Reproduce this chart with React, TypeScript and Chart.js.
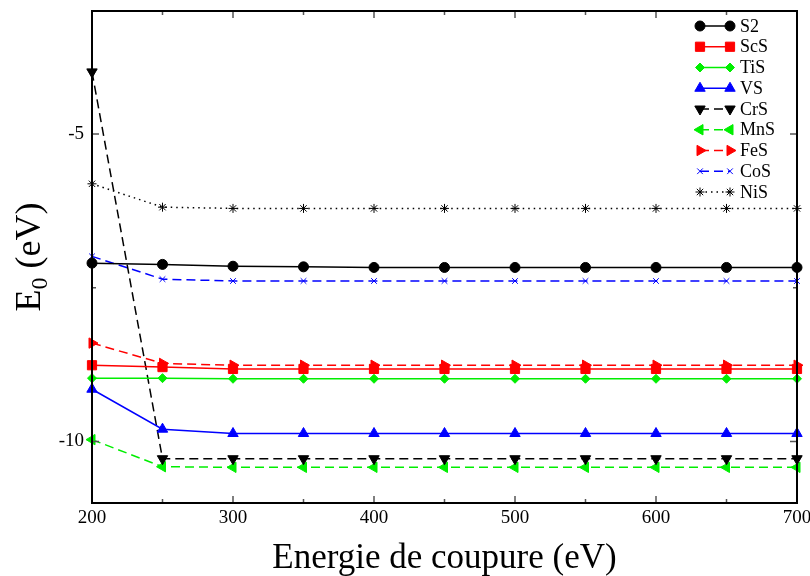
import React, { useEffect, useRef } from "react";
import { Chart, registerables, PointElement } from "chart.js";

Chart.register(...registerables);

const cutoffs = [200, 250, 300, 350, 400, 450, 500, 550, 600, 650, 700];
const xTickLabels = [200, 300, 400, 500, 600, 700];
const yTickLabels = [-10, -5];

const S2 = [-7.10, -7.12, -7.15, -7.16, -7.17, -7.17, -7.17, -7.17, -7.17, -7.17, -7.17];
const ScS = [-8.76, -8.79, -8.82, -8.82, -8.82, -8.82, -8.82, -8.82, -8.82, -8.82, -8.82];
const TiS = [-8.97, -8.97, -8.98, -8.98, -8.98, -8.98, -8.98, -8.98, -8.98, -8.98, -8.98];
const VS = [-9.15, -9.80, -9.87, -9.87, -9.87, -9.87, -9.87, -9.87, -9.87, -9.87, -9.87];
const CrS = [-3.99, -10.28, -10.28, -10.28, -10.28, -10.28, -10.28, -10.28, -10.28, -10.28, -10.28];
const MnS = [-9.97, -10.41, -10.42, -10.42, -10.42, -10.42, -10.42, -10.42, -10.42, -10.42, -10.42];
const FeS = [-8.40, -8.73, -8.76, -8.76, -8.76, -8.76, -8.76, -8.76, -8.76, -8.76, -8.76];
const CoS = [-6.99, -7.36, -7.39, -7.39, -7.39, -7.39, -7.39, -7.39, -7.39, -7.39, -7.39];
const NiS = [-5.81, -6.19, -6.21, -6.21, -6.21, -6.21, -6.21, -6.21, -6.21, -6.21, -6.21];

const SERIF = "'Liberation Serif', 'Times New Roman', serif";
const GREEN = "#00ee00";

function mk(label: string, values: number[], color: string, style: string, radius: number, rotation: number, dash: number[], bw = 1.5, pbw = 1) {
  return {
    label,
    data: cutoffs.map((x, i) => ({ x, y: values[i] })),
    borderColor: color,
    backgroundColor: color,
    pointBackgroundColor: color,
    pointBorderColor: color,
    borderWidth: bw,
    borderDash: dash,
    pointStyle: style,
    pointRadius: radius,
    pointRotation: rotation,
    pointBorderWidth: pbw,
    tension: 0,
    clip: false as any,
  };
}

const framePlugin = {
  id: "frame",
  afterDraw(chart: any) {
    const { ctx, chartArea: a, scales } = chart;
    const xs = scales.x, ys = scales.y;
    ctx.save();
    // ticks
    ctx.strokeStyle = "#555";
    ctx.lineWidth = 1.5;
    for (let v = 200; v <= 700; v += 50) {
      const px = xs.getPixelForValue(v);
      const len = v % 100 === 0 ? 7 : 4;
      ctx.beginPath();
      ctx.moveTo(px, a.bottom); ctx.lineTo(px, a.bottom - len);
      ctx.moveTo(px, a.top); ctx.lineTo(px, a.top + len);
      ctx.stroke();
    }
    for (let v = -10; v <= -5; v += 2.5) {
      const py = ys.getPixelForValue(v);
      const len = v % 5 === 0 ? 7 : 4;
      ctx.beginPath();
      ctx.moveTo(a.left, py); ctx.lineTo(a.left + len, py);
      ctx.moveTo(a.right, py); ctx.lineTo(a.right - len, py);
      ctx.stroke();
    }
    // frame
    ctx.strokeStyle = "#000";
    ctx.lineWidth = 2;
    ctx.strokeRect(a.left, a.top, a.right - a.left, a.bottom - a.top);

    // legend
    const lx1 = a.right - 97, lx2 = a.right - 67, tx = a.right - 57;
    chart.data.datasets.forEach((ds: any, i: number) => {
      const y = a.top + 15 + i * 20.75;
      ctx.save();
      ctx.strokeStyle = ds.borderColor;
      ctx.lineWidth = ds.borderWidth;
      ctx.setLineDash(ds.borderDash || []);
      ctx.beginPath();
      ctx.moveTo(lx1, y); ctx.lineTo(lx2, y);
      ctx.stroke();
      ctx.restore();
      const el = chart.getDatasetMeta(i).data[0];
      if (el) {
        [lx1, lx2].forEach((px) => {
          const p: any = new (PointElement as any)({ x: px, y, options: el.options });
          p.draw(ctx);
        });
      }
      ctx.fillStyle = "#000";
      ctx.font = `18px ${SERIF}`;
      ctx.textAlign = "left";
      ctx.textBaseline = "middle";
      ctx.fillText(ds.label, tx, y + 1);
    });

    // x title
    ctx.fillStyle = "#000";
    ctx.font = `35px ${SERIF}`;
    ctx.textAlign = "center";
    ctx.textBaseline = "alphabetic";
    ctx.fillText("Energie de coupure (eV)", (a.left + a.right) / 2, 568);

    // y title with subscript
    ctx.save();
    ctx.translate(40, (a.top + a.bottom) / 2);
    ctx.rotate(-Math.PI / 2);
    ctx.textAlign = "left";
    const big = `36px ${SERIF}`, small = `24px ${SERIF}`;
    ctx.font = big; const wE = ctx.measureText("E").width;
    ctx.font = small; const w0 = ctx.measureText("0").width;
    ctx.font = big; const wR = ctx.measureText(" (eV)").width;
    let x0 = -(wE + w0 + wR) / 2;
    ctx.font = big; ctx.fillText("E", x0, 0); x0 += wE;
    ctx.font = small; ctx.fillText("0", x0, 7); x0 += w0;
    ctx.font = big; ctx.fillText(" (eV)", x0, 0);
    ctx.restore();

    ctx.restore();
  },
};

export default function App() {
  const ref = useRef<HTMLCanvasElement>(null);
  useEffect(() => {
    document.body.style.margin = "0";
    const canvas = ref.current!;
    const chart = new Chart(canvas, {
      type: "line",
      data: {
        datasets: [
          mk("S2", S2, "#000000", "circle", 5, 0, []),
          mk("ScS", ScS, "#ff0000", "rect", 6.5, 0, []),
          mk("TiS", TiS, GREEN, "rectRot", 4.5, 0, []),
          mk("VS", VS, "#0000ff", "triangle", 6, 0, []),
          mk("CrS", CrS, "#000000", "triangle", 6, 180, [9, 5]),
          mk("MnS", MnS, GREEN, "triangle", 6, 270, [9, 5]),
          mk("FeS", FeS, "#ff0000", "triangle", 6, 90, [9, 5]),
          mk("CoS", CoS, "#0000ff", "crossRot", 4, 0, [9, 5], 1.5, 1),
          mk("NiS", NiS, "#000000", "star", 4.5, 0, [1.5, 4], 1.5, 1),
        ],
      },
      options: {
        responsive: false,
        animation: false,
        layout: { padding: { top: 11, right: 13, left: 0, bottom: 0 } },
        plugins: { legend: { display: false }, tooltip: { enabled: false } },
        scales: {
          x: {
            type: "linear",
            min: 200,
            max: 700,
            grid: { display: false, drawTicks: false },
            border: { display: false },
            afterBuildTicks: (s: any) => { s.ticks = xTickLabels.map((v) => ({ value: v })); },
            afterFit: (s: any) => { s.height = 73; s.paddingLeft = 0; s.paddingRight = 0; },
            ticks: { color: "#000", font: { family: SERIF, size: 19 }, padding: 4, autoSkip: false, maxRotation: 0 },
          },
          y: {
            type: "linear",
            min: -11,
            max: -3,
            grid: { display: false, drawTicks: false },
            border: { display: false },
            afterBuildTicks: (s: any) => { s.ticks = yTickLabels.map((v) => ({ value: v })); },
            afterFit: (s: any) => { s.width = 92; s.paddingTop = 0; s.paddingBottom = 0; },
            ticks: { color: "#000", font: { family: SERIF, size: 19 }, padding: 8 },
          },
        },
      },
      plugins: [framePlugin],
    });
    return () => chart.destroy();
  }, []);
  return (
    <div style={{ width: 810, height: 576 }}>
      <canvas ref={ref} width={810} height={576} style={{ display: "block" }} />
    </div>
  );
}
